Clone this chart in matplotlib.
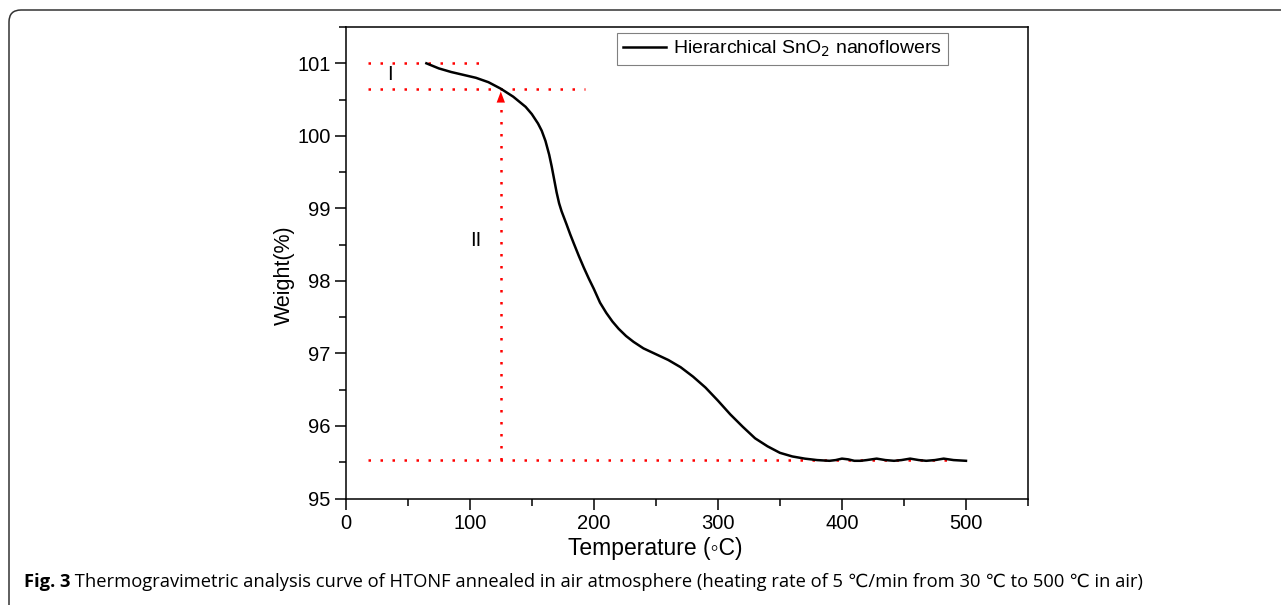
import numpy as np
import matplotlib.pyplot as plt
import matplotlib
from matplotlib.patches import FancyBboxPatch
from matplotlib.transforms import IdentityTransform
from matplotlib.ticker import MultipleLocator

matplotlib.rcParams.update({
    "font.family": ["Liberation Sans", "DejaVu Sans"],
    "xtick.labelsize": 14.5,
    "ytick.labelsize": 14.5,
})

# TGA curve
temp = [65, 75, 85, 95, 105, 115, 125, 135, 145, 150, 155, 158, 161, 164, 166,
        168, 170, 172, 174, 176, 178, 181, 184, 188, 192, 196, 200, 205, 210,
        215, 220, 226, 232, 240, 250, 260, 270, 280, 290, 300, 310, 320, 330,
        340, 350, 360, 370, 380, 390, 395, 400, 405, 410, 415, 420, 428, 435,
        442, 448, 455, 462, 468, 475, 482, 490, 500]
weight = [101.00, 100.93, 100.88, 100.84, 100.80, 100.74, 100.65, 100.54, 100.40,
          100.30, 100.17, 100.07, 99.93, 99.74, 99.58, 99.40, 99.22, 99.07, 98.96,
          98.87, 98.78, 98.64, 98.51, 98.34, 98.18, 98.03, 97.89, 97.70, 97.56,
          97.44, 97.34, 97.24, 97.16, 97.07, 96.99, 96.91, 96.81, 96.68, 96.53,
          96.35, 96.16, 95.99, 95.83, 95.72, 95.63, 95.58, 95.55, 95.53, 95.52,
          95.53, 95.55, 95.54, 95.52, 95.52, 95.53, 95.55, 95.53, 95.52, 95.53,
          95.55, 95.53, 95.52, 95.53, 95.55, 95.53, 95.52]

# guide lines
w_start = 101.0
w_onset = 100.65
w_final = 95.53
t_arrow = 125
guide_start = 18
guide1_end = 110
guide2_end = 193
guide3_end = 490

legend_label = "Hierarchical SnO$_2$ nanoflowers"
caption_bold = "Fig. 3"
caption_rest = (" Thermogravimetric analysis curve of HTONF annealed in air atmosphere "
                "(heating rate of 5 \u2103/min from 30 \u2103 to 500 \u2103 in air)")

fig = plt.figure(figsize=(12.81, 6.05), dpi=100)
ax = fig.add_axes([0.2699, 0.176, 0.5326, 0.7793])

dot = (0, (1, 3.8))
ax.plot([guide_start, guide1_end], [w_start, w_start], color="red", lw=1.8, ls=dot)
ax.plot([guide_start, guide2_end], [w_onset, w_onset], color="red", lw=1.8, ls=dot)
ax.plot([guide_start, guide3_end], [w_final, w_final], color="red", lw=1.8, ls=dot)
ax.plot([t_arrow, t_arrow], [w_final, w_onset - 0.12], color="red", lw=1.8, ls=dot)
ax.annotate("", xy=(t_arrow, w_onset), xytext=(t_arrow, w_onset - 0.2),
            arrowprops=dict(arrowstyle="-|>,head_length=0.8,head_width=0.3",
                            color="red", lw=0, mutation_scale=10))

ax.plot(temp, weight, color="black", lw=1.8, label=legend_label)

ax.text(36, 100.85, "I", fontsize=14.5, ha="center", va="center")
ax.text(105, 98.56, "II", fontsize=14.5, ha="center", va="center")

ax.set_xlim(0, 550)
ax.set_ylim(95, 101.5)
ax.xaxis.set_major_locator(MultipleLocator(100))
ax.xaxis.set_minor_locator(MultipleLocator(50))
ax.yaxis.set_major_locator(MultipleLocator(1))
ax.yaxis.set_minor_locator(MultipleLocator(0.5))
ax.tick_params(which="major", direction="out", length=8, width=1.1, pad=3)
ax.tick_params(which="minor", direction="out", length=5, width=1.1)
for s in ax.spines.values():
    s.set_linewidth(1.1)

ax.set_xlabel("Temperature (\u25e6C)", fontsize=16.5)
ax.xaxis.set_label_coords(0.453, -0.082)
ax.set_ylabel("Weight(%)", fontsize=15.5)
ax.yaxis.set_label_coords(-0.074, 0.474)

leg = ax.legend(loc="upper right", bbox_to_anchor=(0.8828, 0.9873), borderaxespad=0,
                fontsize=14, handlelength=2.2, handletextpad=0.4, borderpad=0.3,
                fancybox=False, framealpha=1)
leg.get_frame().set_edgecolor("#808080")
leg.get_frame().set_linewidth(0.8)

# outer frame of the figure panel
frame = FancyBboxPatch((9, -40), 1320, 605 - 10 + 40, boxstyle="round,pad=0,rounding_size=12",
                       transform=IdentityTransform(), fill=False, edgecolor="#333333", lw=1.1)
fig.add_artist(frame)

# caption
renderer = fig.canvas.get_renderer()
t1 = fig.text(24 / 1281, 0.038, caption_bold, fontsize=13.2, fontweight="bold",
              family="Open Sans", va="center")
bb = t1.get_window_extent(renderer)
fig.text(bb.x1 / 1281, 0.038, caption_rest, fontsize=13.2, family=["Open Sans", "DejaVu Sans"],
         va="center")

fig.savefig("out.png", dpi=100)
